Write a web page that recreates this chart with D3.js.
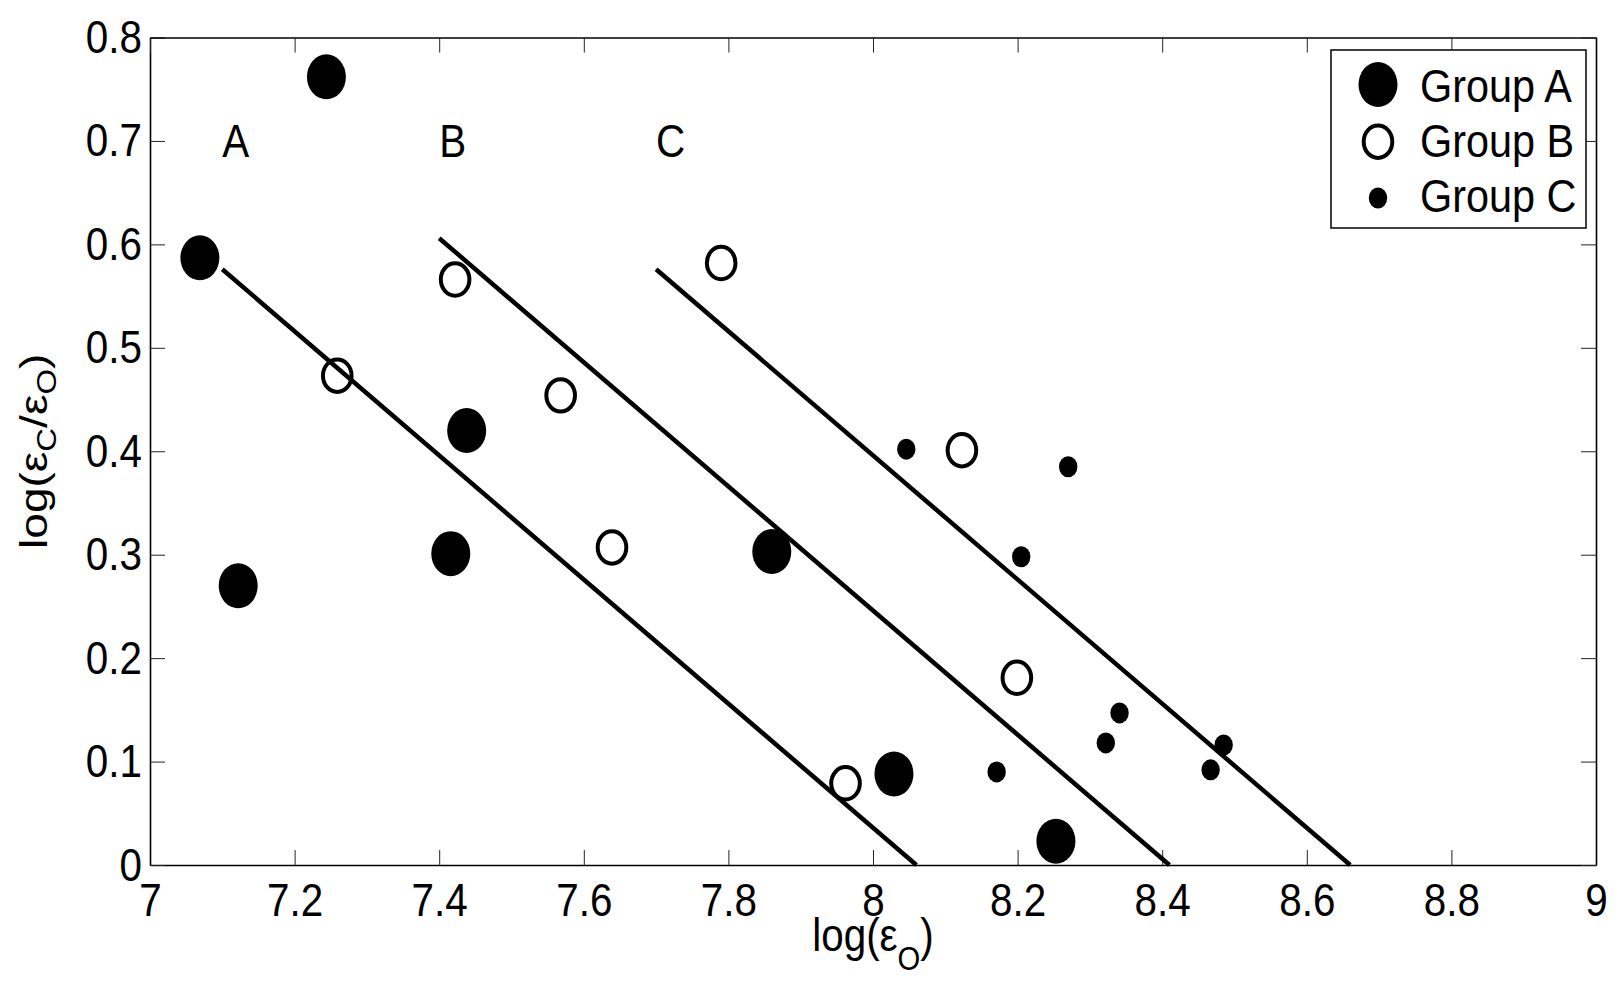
<!DOCTYPE html>
<html>
<head>
<meta charset="utf-8">
<script src="https://cdnjs.cloudflare.com/ajax/libs/d3/7.8.5/d3.min.js"></script>
<style>
  body { margin: 0; background: #fff; }
  svg { display: block; font-family: "Liberation Sans", Arial, Helvetica, sans-serif; }
</style>
</head>
<body>
<script>
// tick values and labels
var xTicks = [7, 7.2, 7.4, 7.6, 7.8, 8, 8.2, 8.4, 8.6, 8.8, 9];
var xTickLabels = ["7", "7.2", "7.4", "7.6", "7.8", "8", "8.2", "8.4", "8.6", "8.8", "9"];
var yTicks = [0, 0.1, 0.2, 0.3, 0.4, 0.5, 0.6, 0.7, 0.8];
var yTickLabels = ["0", "0.1", "0.2", "0.3", "0.4", "0.5", "0.6", "0.7", "0.8"];

// points, [log(eO), log(eC/eO)]
var groupA = [
  [7.244, 0.762], [7.069, 0.587], [7.122, 0.270], [7.438, 0.420],
  [7.416, 0.301], [7.860, 0.303], [8.029, 0.088], [8.253, 0.023]
];
var groupB = [
  [7.422, 0.566], [7.259, 0.473], [7.568, 0.454], [7.639, 0.307],
  [7.790, 0.582], [8.123, 0.401], [8.199, 0.181], [7.962, 0.079]
];
var groupC = [
  [8.046, 0.402], [8.270, 0.385], [8.205, 0.298], [8.341, 0.147],
  [8.322, 0.118], [8.485, 0.116], [8.467, 0.092], [8.171, 0.090]
];

// three fitted lines (start, end)
var fitLines = [
  [[7.10, 0.576], [8.06, 0]],
  [[7.40, 0.606], [8.41, 0]],
  [[7.70, 0.576], [8.66, 0]]
];
var lineNames = ["A", "B", "C"];
var lineNameX = [7.10, 7.40, 7.70];
var lineNameY = 0.7;

var legendNames = ["Group A", "Group B", "Group C"];

var W = 1618, H = 981;
var margin = {top: 37.5, right: 22, bottom: 116, left: 150};
var width = W - margin.left - margin.right,
    height = H - margin.top - margin.bottom;
var sx = 0.86; // figure text looks horizontally squeezed

var svg = d3.select("body").append("svg")
    .attr("width", W)
    .attr("height", H);

var g = svg.append("g")
    .attr("transform", "translate(" + margin.left + "," + margin.top + ")");

var x = d3.scaleLinear().domain([7, 9]).range([0, width]);
var y = d3.scaleLinear().domain([0, 0.8]).range([height, 0]);

// axes, ticks inward on all four sides
var xAxis = d3.axisBottom(x).tickValues(xTicks)
    .tickFormat(function(d, i) { return xTickLabels[i]; })
    .tickSizeInner(-15).tickSizeOuter(0).tickPadding(18);
var yAxis = d3.axisLeft(y).tickValues(yTicks)
    .tickFormat(function(d, i) { return yTickLabels[i]; })
    .tickSizeInner(-15).tickSizeOuter(0).tickPadding(8);

g.append("g").attr("class", "axis")
    .attr("transform", "translate(0," + height + ")")
    .call(xAxis);
g.append("g").attr("class", "axis")
    .call(yAxis);
g.append("g").attr("class", "axis")
    .call(d3.axisTop(x).tickValues(xTicks).tickFormat("").tickSizeInner(-15).tickSizeOuter(0));
g.append("g").attr("class", "axis")
    .attr("transform", "translate(" + width + ",0)")
    .call(d3.axisRight(y).tickValues(yTicks).tickFormat("").tickSizeInner(-15).tickSizeOuter(0));

g.selectAll(".axis .domain").attr("stroke", "#000").attr("stroke-width", 1.6);
g.selectAll(".axis .tick line").attr("stroke", "#222").attr("stroke-width", 1);
g.selectAll(".axis .tick text")
    .attr("fill", "#000")
    .style("font-size", "47px");
g.selectAll(".axis .tick text")
    .filter(function() { return d3.select(this).attr("x") !== null && +d3.select(this).attr("x") < 0; })
    .attr("x", -8 / sx);
g.selectAll(".axis .tick text").attr("transform", "scale(" + sx + ",1)");

// fitted lines
var line = d3.line().x(function(d) { return x(d[0]); }).y(function(d) { return y(d[1]); });
g.selectAll(".fit").data(fitLines).enter().append("path")
    .attr("class", "fit")
    .attr("d", line)
    .attr("fill", "none")
    .attr("stroke", "#000")
    .attr("stroke-width", 4.5);

// markers
function drawA(sel) { sel.attr("rx", 19.5).attr("ry", 22.5).attr("fill", "#000"); }
function drawB(sel) { sel.attr("rx", 14.3).attr("ry", 16.2).attr("fill", "none").attr("stroke", "#000").attr("stroke-width", 4); }
function drawC(sel) { sel.attr("rx", 9.2).attr("ry", 10.5).attr("fill", "#000"); }

g.selectAll(".ptA").data(groupA).enter().append("ellipse")
    .attr("cx", function(d) { return x(d[0]); })
    .attr("cy", function(d) { return y(d[1]); })
    .call(drawA);
g.selectAll(".ptB").data(groupB).enter().append("ellipse")
    .attr("cx", function(d) { return x(d[0]); })
    .attr("cy", function(d) { return y(d[1]); })
    .call(drawB);
g.selectAll(".ptC").data(groupC).enter().append("ellipse")
    .attr("cx", function(d) { return x(d[0]); })
    .attr("cy", function(d) { return y(d[1]); })
    .call(drawC);

// A / B / C line names
g.selectAll(".lname").data(lineNames).enter().append("text")
    .attr("transform", function(d, i) {
      return "translate(" + x(lineNameX[i]) + "," + (y(lineNameY) + 16) + ") scale(" + sx + ",1)";
    })
    .style("font-size", "47px")
    .text(function(d) { return d; });

// legend
var legend = svg.append("g");
legend.append("rect")
    .attr("x", 1331).attr("y", 50)
    .attr("width", 255).attr("height", 178)
    .attr("fill", "#fff").attr("stroke", "#000").attr("stroke-width", 1.5);
var legMarkY = [84.5, 141.7, 198];
var legTextY = [102, 156.5, 212];
var drawers = [drawA, drawB, drawC];
legendNames.forEach(function(name, i) {
  legend.append("ellipse")
      .attr("cx", 1378).attr("cy", legMarkY[i])
      .call(drawers[i]);
  legend.append("text")
      .attr("transform", "translate(1420," + legTextY[i] + ") scale(0.9,1)")
      .style("font-size", "46px")
      .text(name);
});

// axis titles
var xt = svg.append("text")
    .attr("transform", "translate(" + (margin.left + width / 2) + ",951) scale(" + sx + ",1)")
    .attr("text-anchor", "middle")
    .style("font-size", "47px");
xt.append("tspan").text("log(\u03b5");
xt.append("tspan").attr("dy", 19).style("font-size", "34px").text("O");
xt.append("tspan").attr("dy", -19).text(")");

var yt = svg.append("text")
    .attr("transform", "translate(47," + (margin.top + height / 2) + ") rotate(-90) scale(1," + sx + ")")
    .attr("text-anchor", "middle")
    .style("font-size", "46px");
yt.append("tspan").text("log(\u03b5");
yt.append("tspan").attr("dy", 11).style("font-size", "33px").text("C");
yt.append("tspan").attr("dy", -11).text("/\u03b5");
yt.append("tspan").attr("dy", 11).style("font-size", "33px").text("O");
yt.append("tspan").attr("dy", -11).text(")");
</script>
</body>
</html>
